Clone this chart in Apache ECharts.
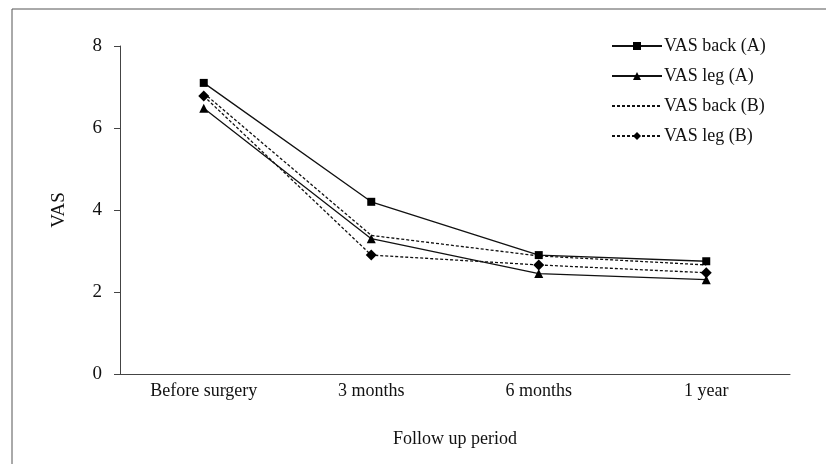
<!DOCTYPE html>
<html>
<head>
    <meta charset="utf-8">
    <title>VAS</title>
    <script src="https://cdn.jsdelivr.net/npm/echarts@6/dist/echarts.min.js"></script>
    <style>
        body { margin: 0; background: #fff; }
    </style>
</head>
<body>
<div id="main" style="width: 826px;height:464px;"></div>

<script type="text/javascript">
    // data
    var periods = ['Before surgery', '3 months', '6 months', '1 year'];
    var backA = [7.1, 4.2, 2.9, 2.75];
    var legA = [6.48, 3.3, 2.45, 2.3];
    var backB = [6.85, 3.38, 2.88, 2.66];
    var legB = [6.78, 2.9, 2.66, 2.47];
    var yTicks = [0, 2, 4, 6, 8];

    var font = '"Liberation Serif", "DejaVu Serif", serif';
    var myChart = echarts.init(document.getElementById('main'));

    function line(name, data, symbol, size, dashed) {
        return {
            name: name,
            type: 'line',
            data: data,
            symbol: symbol,
            symbolSize: size,
            itemStyle: { color: '#000' },
            lineStyle: { color: '#111', width: 1.3, type: dashed ? [3, 2] : 'solid' },
            animation: false
        };
    }

    var option = {
        backgroundColor: '#fff',
        textStyle: { fontFamily: font },
        graphic: [{
            type: 'rect',
            shape: { x: 12, y: 9, width: 830, height: 470 },
            style: { fill: 'none', stroke: '#555', lineWidth: 1 }
        }],
        legend: {
            orient: 'vertical',
            left: 606,
            top: 32,
            itemWidth: 50,
            itemHeight: 10,
            itemGap: 12,
            textStyle: { fontFamily: font, fontSize: 18, color: '#111', padding: [0, 0, 0, -3] },
            data: [
                'VAS back (A)',
                'VAS leg (A)',
                { name: 'VAS back (B)', itemStyle: { opacity: 0 } },
                'VAS leg (B)'
            ]
        },
        grid: { left: 120, right: 36, top: 46, bottom: 90 },
        xAxis: {
            type: 'category',
            data: periods,
            boundaryGap: true,
            name: 'Follow up period',
            nameLocation: 'middle',
            nameGap: 56,
            nameTextStyle: { fontFamily: font, fontSize: 18, color: '#111' },
            axisLine: { lineStyle: { color: '#444', width: 1 } },
            axisTick: { length: 6, lineStyle: { color: '#444' } },
            axisLabel: { margin: 8, fontFamily: font, fontSize: 18, color: '#111' }
        },
        yAxis: {
            type: 'value',
            min: yTicks[0],
            max: yTicks[yTicks.length - 1],
            interval: 2,
            name: 'VAS',
            nameLocation: 'middle',
            nameGap: 51,
            nameTextStyle: { fontFamily: font, fontSize: 19, color: '#111' },
            axisLine: { show: true, lineStyle: { color: '#444', width: 1 } },
            axisTick: { show: true, length: 6, lineStyle: { color: '#444' } },
            axisLabel: { margin: 18, fontFamily: font, fontSize: 19, color: '#111' },
            splitLine: { show: false }
        },
        series: [
            line('VAS back (A)', backA, 'rect', 8, false),
            line('VAS leg (A)', legA, 'triangle', 9, false),
            line('VAS back (B)', backB, 'none', 0, true),
            line('VAS leg (B)', legB, 'diamond', 11, true)
        ]
    };

    myChart.setOption(option);
</script>
</body>
</html>
